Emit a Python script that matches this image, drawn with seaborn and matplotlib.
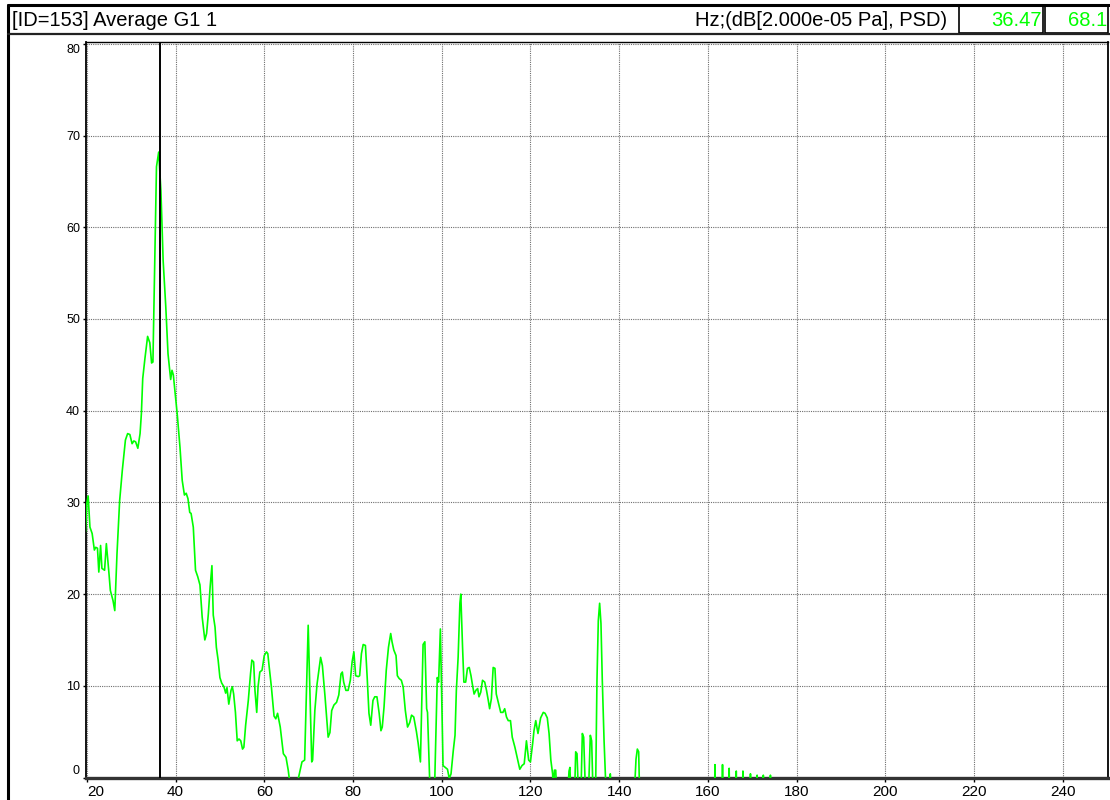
import matplotlib
matplotlib.use("Agg")
import matplotlib.pyplot as plt
from matplotlib.lines import Line2D
from matplotlib.patches import Rectangle
import seaborn as sns
import pandas as pd

# ---------------- data ----------------
title_left = "[ID=153] Average G1 1"
title_right = "Hz;(dB[2.000e-05 Pa], PSD)"
cursor_freq = 36.47
cursor_level = 68.1

x_ticks = [20, 40, 60, 80, 100, 120, 140, 160, 180, 200, 220, 240]
y_ticks = [0, 10, 20, 30, 40, 50, 60, 70, 80]

freq = [
    19.7, 20.0, 20.3, 20.7, 21.2, 21.7, 22.0, 22.4, 22.7, 23.1, 23.4, 24.0, 24.4, 25.0, 25.3,
    25.9, 26.3, 26.8, 27.4, 28.0, 28.7, 29.2, 29.7, 30.2, 30.6, 31.0, 31.5, 32.0, 32.3, 32.6,
    33.1, 33.7, 34.2, 34.6, 34.9, 35.7, 36.2, 36.7, 37.2, 37.8, 38.3, 38.9, 39.2, 39.5, 40.4,
    41.0, 41.5, 42.0, 42.4, 42.8, 43.2, 43.5, 44.0, 44.5, 45.0, 45.5, 46.0, 46.6, 47.0, 47.4,
    47.8, 48.2, 48.5, 48.9, 49.2, 49.6, 50.0, 50.4, 50.9, 51.3, 51.6, 52.0, 52.5, 52.8, 53.1,
    53.5, 53.9, 54.3, 54.7, 55.1, 55.4, 55.8, 56.4, 56.9, 57.2, 57.6, 57.9, 58.3, 58.6, 59.0,
    59.5, 60.0, 60.5, 60.8, 61.1, 61.6, 62.2, 62.6, 63.0, 63.6, 64.3, 64.9, 65.4, 66.0, 66.8,
    67.5, 68.0, 68.5, 69.1, 69.9, 70.7, 70.9, 71.4, 71.9, 72.7, 73.1, 73.7, 74.4, 74.8, 75.2,
    75.7, 76.3, 76.8, 77.3, 77.6, 77.9, 78.4, 78.9, 79.4, 79.8, 80.2, 80.6, 81.2, 81.5, 81.9,
    82.3, 82.8, 83.2, 83.6, 84.0, 84.5, 84.9, 85.4, 85.9, 86.3, 86.6, 87.0, 87.5, 88.0, 88.5,
    88.8, 89.2, 89.7, 90.0, 90.4, 90.9, 91.3, 91.8, 92.3, 92.8, 93.2, 93.7, 94.3, 94.7, 95.2,
    95.8, 96.2, 96.6, 96.8, 97.3, 97.8, 98.4, 98.7, 99.0, 99.3, 99.7, 100.3, 100.8, 101.3, 101.7,
    102.1, 102.6, 103.0, 103.3, 103.7, 104.1, 104.3, 104.7, 105.0, 105.4, 105.8, 106.2, 106.6, 106.9, 107.3,
    107.7, 108.1, 108.4, 108.8, 109.2, 109.7, 110.1, 110.5, 110.8, 111.2, 111.6, 112.0, 112.3, 112.9, 113.3,
    113.8, 114.2, 114.6, 115.0, 115.5, 115.9, 116.5, 117.0, 117.6, 118.1, 118.6, 119.1, 119.6, 120.0, 120.5,
    120.8, 121.2, 121.7, 122.3, 122.9, 123.3, 123.8, 124.2, 124.6, 125.0, 125.2, 125.4, 125.7, 125.9, 126.8,
    127.8, 128.5, 128.7, 128.9, 129.1, 129.6, 130.0, 130.2, 130.5, 130.8, 131.1, 131.4, 131.7, 132.0, 132.4,
    132.8, 133.1, 133.5, 133.8, 134.1, 134.4, 134.7, 135.0, 135.3, 135.6, 135.9, 136.2, 136.6, 137.0, 137.5,
    137.9, 138.0, 138.2, 139.0, 141.0, 143.0, 143.5, 143.8, 144.1, 144.4, 144.6, 145.5, 150.0, 155.0, 160.5,
    161.2, 161.6, 162.0, 162.9, 163.3, 163.7, 164.4, 164.8, 165.2, 166.0, 166.4, 166.8, 167.5, 167.9, 168.3,
    169.2, 169.6, 170.0, 170.7, 171.1, 171.5, 172.1, 172.5, 172.9, 173.7, 174.1, 174.5, 176.0,
]

level = [
    26.8, 29.9, 30.7, 27.3, 26.6, 24.8, 25.1, 25.0, 22.4, 25.3, 22.8, 22.6, 25.5, 22.2, 20.4,
    19.3, 18.2, 24.4, 30.2, 33.5, 36.8, 37.5, 37.4, 36.4, 36.7, 36.6, 35.9, 37.5, 39.7, 43.5,
    45.7, 48.1, 47.4, 45.2, 45.3, 66.6, 68.2, 64.0, 56.4, 51.3, 46.2, 43.4, 44.4, 43.9, 39.5,
    36.0, 32.4, 30.8, 31.0, 30.4, 28.9, 28.8, 27.3, 22.6, 21.9, 21.0, 17.5, 15.0, 15.7, 17.9,
    20.8, 23.1, 17.7, 16.4, 14.2, 12.8, 10.9, 10.3, 9.9, 9.2, 9.8, 8.0, 9.5, 9.9, 9.1,
    7.1, 4.0, 4.2, 4.0, 3.1, 3.3, 5.7, 8.4, 11.3, 12.8, 12.6, 9.5, 7.1, 9.9, 11.5,
    11.7, 13.3, 13.7, 13.5, 12.1, 9.9, 6.7, 6.4, 7.0, 5.5, 2.6, 2.2, 0.8, -1.5, -3.0,
    -0.5, 0.6, 1.7, 1.9, 16.6, 1.7, 1.9, 7.3, 10.2, 13.1, 12.2, 8.8, 4.4, 4.9, 7.3,
    7.9, 8.2, 9.0, 11.3, 11.5, 10.4, 9.5, 9.5, 10.6, 12.6, 13.7, 11.1, 11.0, 11.1, 13.5,
    14.5, 14.4, 10.9, 7.0, 5.7, 8.4, 8.8, 8.8, 7.0, 5.1, 5.5, 7.7, 11.7, 14.2, 15.7,
    14.8, 13.9, 13.3, 11.1, 10.8, 10.6, 9.9, 7.3, 5.5, 6.0, 6.8, 6.6, 5.0, 3.7, 1.7,
    14.5, 14.8, 7.5, 7.1, -0.5, -3.0, -1.0, 5.1, 10.9, 10.4, 16.2, 1.3, 1.1, 0.9, -0.1,
    0.4, 2.9, 4.6, 9.5, 13.1, 19.0, 20.0, 14.2, 10.4, 10.4, 11.9, 12.0, 11.1, 10.2, 9.1,
    9.5, 9.7, 8.8, 9.3, 10.6, 10.4, 9.5, 8.4, 7.5, 8.6, 12.0, 11.9, 9.1, 7.9, 7.1,
    7.1, 7.5, 6.6, 6.2, 6.2, 4.4, 3.3, 2.2, 0.9, 1.3, 1.5, 4.0, 1.9, 1.7, 3.7,
    5.1, 6.2, 4.8, 6.5, 7.1, 7.0, 6.5, 4.8, 1.9, 0.4, -1.5, 0.8, 0.8, -1.5, -5.0,
    -5.0, -1.0, 0.7, 1.1, -1.5, -4.0, -1.0, 2.8, 2.6, -1.5, -4.0, -1.5, 4.8, 4.4, -1.5,
    -4.0, -1.5, 4.6, 4.0, -1.5, -4.0, -1.0, 10.6, 17.1, 19.0, 16.8, 10.6, 4.0, -1.0, -4.0,
    -1.0, 0.4, -1.0, -6.0, -8.0, -6.0, -1.0, 2.0, 3.1, 2.8, -1.5, -10.0, -15.0, -15.0, -15.0,
    -12.0, 1.4, -12.0, -12.0, 1.4, -12.0, -12.0, 1.0, -12.0, -12.0, 0.7, -12.0, -12.0, 0.7, -12.0,
    -12.0, 0.4, -12.0, -12.0, 0.25, -12.0, -12.0, 0.25, -12.0, -12.0, 0.25, -12.0, -20.0,
]

df = pd.DataFrame({"freq": freq, "level": level})

# ---------------- style ----------------
sns.set_style("white")
plt.rcParams["font.family"] = ["Liberation Sans", "DejaVu Sans"]

W, H = 1110, 800
fig = plt.figure(figsize=(W / 100, H / 100), dpi=100)


def fx(px):
    return px / W


def fy(py):
    return 1 - py / H


ax_left, ax_right, ax_top, ax_bottom = 85.5, 1108, 42, 777.5
ax = fig.add_axes([fx(ax_left), fy(ax_bottom), fx(ax_right - ax_left), (ax_bottom - ax_top) / H])

ax.set_axisbelow(True)
ax.grid(True, color="#6e6e6e", linestyle=(0, (1, 1)), linewidth=0.8)

sns.lineplot(data=df, x="freq", y="level", ax=ax, color="#00ff00", linewidth=1.2,
             sort=False, estimator=None, zorder=3)
ax.axvline(cursor_freq, color="black", linewidth=1.4, zorder=4)

ax.set_xlim(19.7, 250.2)
ax.set_ylim(0, 80.2)
ax.set_xticks(x_ticks)
ax.set_xticklabels([str(t) for t in x_ticks])
ax.set_yticks(y_ticks)
ax.set_yticklabels([str(t) for t in y_ticks])
ax.set_xlabel("")
ax.set_ylabel("")

ax.tick_params(axis="x", direction="out", length=3, width=1, pad=2.5, labelsize=11,
               colors="black", bottom=True)
ax.tick_params(axis="y", direction="out", length=2.5, width=1, pad=1.5, labelsize=9,
               colors="black", left=True)

for side in ["left", "right", "top"]:
    ax.spines[side].set_color("black")
    ax.spines[side].set_linewidth(1.3)
ax.spines["top"].set_linewidth(1.0)
ax.spines["bottom"].set_color("#333333")
ax.spines["bottom"].set_linewidth(2.4)

yt = ax.yaxis.get_major_ticks()
yt[0].label1.set_va("bottom")
yt[-1].label1.set_va("top")
xt = ax.xaxis.get_major_ticks()
xt[0].label1.set_ha("left")

# ---------------- header frame ----------------
lw_frame = 2.2
fig.add_artist(Line2D([fx(8), fx(1110)], [fy(5), fy(5)], color="black", linewidth=lw_frame))
fig.add_artist(Line2D([fx(8), fx(8)], [fy(5), fy(800)], color="black", linewidth=lw_frame))
fig.add_artist(Line2D([fx(8), fx(1110)], [fy(34), fy(34)], color="#222222", linewidth=1.6))

for x0, x1 in [(959, 1043), (1044.5, 1108)]:
    fig.add_artist(Rectangle((fx(x0), fy(33)), fx(x1 - x0), (33 - 6) / H,
                             fill=False, edgecolor="black", linewidth=1.2))

fig.text(fx(12), fy(20), title_left, fontsize=14.5, ha="left", va="center", color="black")
fig.text(fx(947), fy(20), title_right, fontsize=14.5, ha="right", va="center", color="black")
fig.text(fx(1042), fy(20), f"{cursor_freq:.2f}", fontsize=14.5, ha="right", va="center",
         color="#00ff00")
fig.text(fx(1107), fy(20), f"{cursor_level:.1f}", fontsize=14.5, ha="right", va="center",
         color="#00ff00")

fig.savefig("out.png", dpi=100)
